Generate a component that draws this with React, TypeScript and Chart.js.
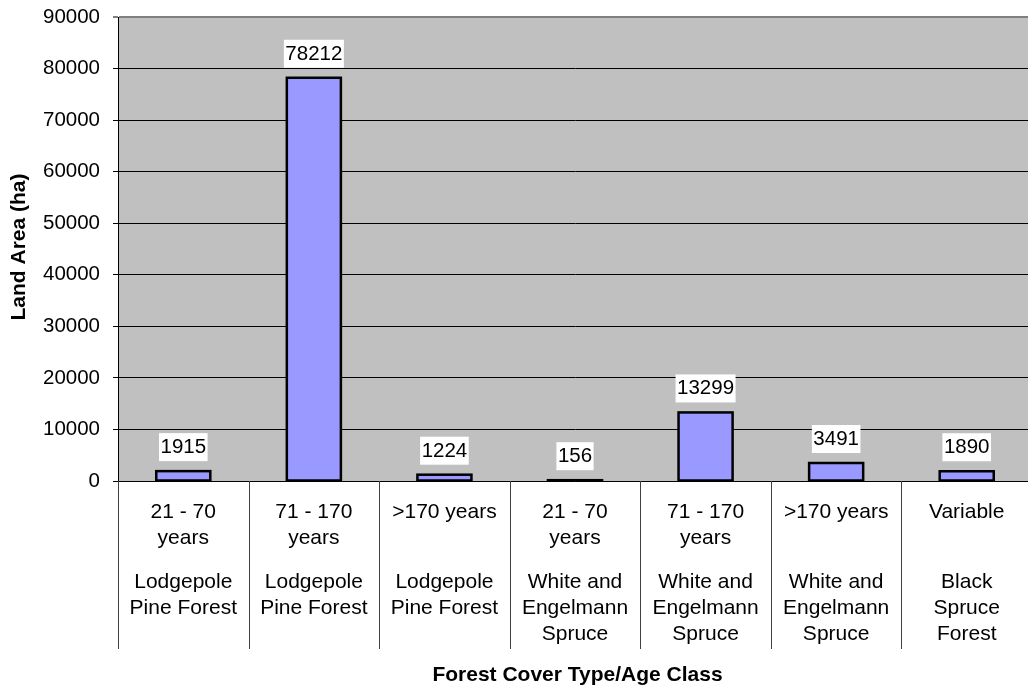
import React, { useEffect, useRef } from "react";
import { Chart, registerables } from "chart.js";

Chart.register(...registerables);

const ageClasses: string[][] = [
  ["21 - 70", "years"],
  ["71 - 170", "years"],
  [">170 years"],
  ["21 - 70", "years"],
  ["71 - 170", "years"],
  [">170 years"],
  ["Variable"],
];

const coverTypes: string[][] = [
  ["Lodgepole", "Pine Forest"],
  ["Lodgepole", "Pine Forest"],
  ["Lodgepole", "Pine Forest"],
  ["White and", "Engelmann", "Spruce"],
  ["White and", "Engelmann", "Spruce"],
  ["White and", "Engelmann", "Spruce"],
  ["Black", "Spruce", "Forest"],
];

const landArea: number[] = [1915, 78212, 1224, 156, 13299, 3491, 1890];

const yMin = 0;
const yMax = 90000;
const yStep = 10000;

const yTitle = "Land Area (ha)";
const xTitle = "Forest Cover Type/Age Class";

const FONT = "'Liberation Sans', Arial, sans-serif";

export default function App() {
  const canvasRef = useRef<HTMLCanvasElement | null>(null);

  useEffect(() => {
    document.body.style.margin = "0";
    document.body.style.overflow = "hidden";
    const canvas = canvasRef.current;
    if (!canvas) return;

    const overlay = {
      id: "overlay",
      beforeDraw(chart: any) {
        const ctx = chart.ctx;
        const a = chart.chartArea;
        ctx.save();
        ctx.fillStyle = "#C0C0C0";
        ctx.fillRect(a.left, a.top, a.right - a.left, a.bottom - a.top);
        ctx.restore();
      },
      afterDatasetsDraw(chart: any) {
        const ctx = chart.ctx;
        const meta = chart.getDatasetMeta(0);
        ctx.save();
        ctx.strokeStyle = "#000";
        ctx.lineWidth = 2.5;
        meta.data.forEach((bar: any) => {
          const w = bar.width;
          ctx.strokeRect(bar.x - w / 2, bar.y, w, bar.base - bar.y);
        });
        ctx.restore();
      },
      afterDraw(chart: any) {
        const ctx = chart.ctx;
        const area = chart.chartArea;
        const n = landArea.length;
        const cw = (area.right - area.left) / n;
        ctx.save();
        // separators
        ctx.strokeStyle = "#404040";
        ctx.lineWidth = 1;
        for (let i = 0; i <= n; i++) {
          const x = Math.round(area.left + i * cw) + 0.5;
          ctx.beginPath();
          ctx.moveTo(x, area.bottom);
          ctx.lineTo(x, 649);
          ctx.stroke();
        }
        // category labels
        ctx.fillStyle = "#000";
        ctx.textAlign = "center";
        ctx.textBaseline = "alphabetic";
        ctx.font = `21px ${FONT}`;
        for (let i = 0; i < n; i++) {
          const cx = area.left + (i + 0.5) * cw;
          ageClasses[i].forEach((line, j) => {
            ctx.fillText(line, cx, 518 + j * 25.5);
          });
          coverTypes[i].forEach((line, j) => {
            ctx.fillText(line, cx, 588 + j * 26);
          });
        }
        // data labels
        const meta = chart.getDatasetMeta(0);
        ctx.font = `20.5px ${FONT}`;
        meta.data.forEach((bar: any, i: number) => {
          const txt = String(landArea[i]);
          const w = ctx.measureText(txt).width + 3;
          const bottom = bar.y - 10;
          const top = bottom - 28;
          ctx.fillStyle = "#fff";
          ctx.fillRect(bar.x - w / 2, top, w, 28);
          ctx.fillStyle = "#000";
          ctx.textAlign = "center";
          ctx.fillText(txt, bar.x, bottom - 8);
        });
        // titles
        ctx.font = `bold 21px ${FONT}`;
        ctx.fillStyle = "#000";
        ctx.textAlign = "center";
        ctx.textBaseline = "alphabetic";
        ctx.fillText(xTitle, 577.5, 681);
        ctx.translate(19.5, 247);
        ctx.rotate(-Math.PI / 2);
        ctx.textBaseline = "middle";
        ctx.fillText(yTitle, 0, 0);
        ctx.restore();
      },
    };

    const chart = new Chart(canvas, {
      type: "bar",
      data: {
        labels: ageClasses.map((a, i) => a.join(" ") + " " + coverTypes[i].join(" ")),
        datasets: [
          {
            data: landArea,
            backgroundColor: "#9999FF",
            borderWidth: 0,
            categoryPercentage: 1,
            barPercentage: 0.414,
          },
        ],
      },
      options: {
        animation: false,
        responsive: false,
        devicePixelRatio: 1,
        layout: { padding: { top: 17, right: 0, left: 0, bottom: 0 } },
        plugins: {
          legend: { display: false },
          tooltip: { enabled: false },
        },
        scales: {
          x: {
            ticks: { display: false },
            grid: { display: false, drawTicks: false },
            border: { display: false },
            afterFit(scale: any) {
              scale.height = 208;
              scale.paddingLeft = 0;
              scale.paddingRight = 0;
            },
          },
          y: {
            min: yMin,
            max: yMax,
            ticks: {
              stepSize: yStep,
              padding: 13,
              color: "#000",
              font: { family: FONT, size: 20.5 },
              callback: (v: any) => String(v),
            },
            grid: {
              color: (c: any) => (c.tick && c.tick.value === yMax ? "#808080" : "#000000"),
              lineWidth: (c: any) => (c.tick && c.tick.value === yMax ? 2 : 1),
              tickLength: 5,
              tickColor: "#000000",
              tickWidth: 1,
            },
            border: { display: true, color: "#000000", width: 1 },
            afterFit(scale: any) {
              scale.width = 118;
              scale.paddingTop = 0;
              scale.paddingBottom = 0;
            },
          },
        },
      },
      plugins: [overlay],
    } as any);

    return () => chart.destroy();
  }, []);

  return (
    <div style={{ width: 1032, height: 689, position: "relative" }}>
      <canvas ref={canvasRef} width={1032} height={689} style={{ display: "block", background: "#fff" }} />
    </div>
  );
}
